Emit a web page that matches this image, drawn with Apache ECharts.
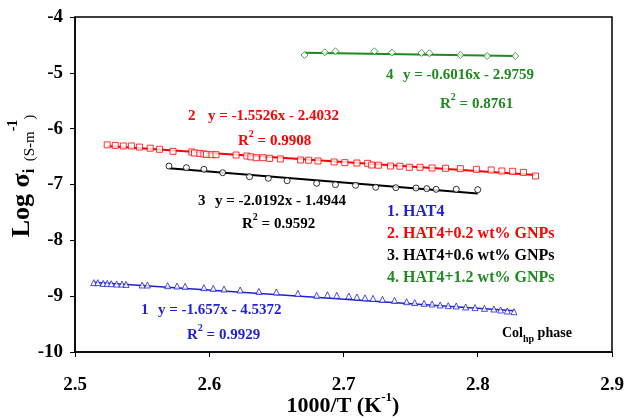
<!DOCTYPE html>
<html>
<head>
<meta charset="utf-8">
<script src="https://cdn.jsdelivr.net/npm/echarts@6/dist/echarts.min.js"></script>
<style>
html, body { margin: 0; padding: 0; background: #fff; }
#main { width: 626px; height: 419px; }
</style>
</head>
<body>
<div id="main"></div>
<script>
// 1. HAT4 (blue triangles)
const hat4X = [2.514, 2.517, 2.521, 2.524, 2.527, 2.531, 2.535, 2.538, 2.550, 2.554, 2.569, 2.576, 2.582, 2.596, 2.603, 2.611, 2.623, 2.637, 2.650, 2.666, 2.680, 2.688, 2.695, 2.704, 2.710, 2.716, 2.722, 2.729, 2.738, 2.747, 2.753, 2.760, 2.766, 2.772, 2.778, 2.784, 2.791, 2.798, 2.805, 2.812, 2.817, 2.822, 2.827];
const hat4Y = [-8.758, -8.758, -8.771, -8.771, -8.777, -8.783, -8.783, -8.789, -8.800, -8.800, -8.812, -8.818, -8.824, -8.848, -8.860, -8.872, -8.890, -8.915, -8.925, -8.950, -8.985, -8.975, -8.985, -8.997, -9.015, -9.030, -9.040, -9.057, -9.075, -9.099, -9.115, -9.128, -9.140, -9.158, -9.170, -9.176, -9.194, -9.205, -9.218, -9.230, -9.248, -9.266, -9.278];
const hat4Fit = [[2.514, -8.75], [2.827, -9.26]];

// 2. HAT4+0.2 wt% GNPs (red squares)
const gnp02X = [2.524, 2.530, 2.536, 2.542, 2.548, 2.556, 2.563, 2.573, 2.587, 2.589, 2.593, 2.596, 2.598, 2.602, 2.605, 2.620, 2.628, 2.631, 2.635, 2.640, 2.645, 2.653, 2.668, 2.674, 2.681, 2.693, 2.701, 2.710, 2.718, 2.721, 2.726, 2.735, 2.742, 2.749, 2.757, 2.766, 2.776, 2.787, 2.799, 2.810, 2.818, 2.826, 2.834, 2.843];
const gnp02Y = [-6.290, -6.300, -6.310, -6.310, -6.330, -6.350, -6.370, -6.406, -6.418, -6.436, -6.442, -6.454, -6.460, -6.466, -6.466, -6.472, -6.490, -6.505, -6.520, -6.520, -6.532, -6.543, -6.561, -6.565, -6.579, -6.597, -6.609, -6.615, -6.621, -6.651, -6.655, -6.669, -6.672, -6.692, -6.692, -6.704, -6.710, -6.716, -6.728, -6.740, -6.758, -6.764, -6.782, -6.848];
const gnp02Fit = [[2.524, -6.31], [2.843, -6.83]];

// 3. HAT4+0.6 wt% GNPs (black circles)
const gnp06X = [2.570, 2.583, 2.596, 2.610, 2.630, 2.644, 2.658, 2.680, 2.694, 2.709, 2.724, 2.739, 2.754, 2.762, 2.769, 2.784, 2.800];
const gnp06Y = [-6.669, -6.699, -6.728, -6.789, -6.861, -6.889, -6.932, -6.979, -7.003, -7.014, -7.050, -7.057, -7.063, -7.075, -7.086, -7.086, -7.093];
const gnp06Fit = [[2.570, -6.71], [2.800, -7.16]];

// 4. HAT4+1.2 wt% GNPs (green diamonds)
const gnp12X = [2.671, 2.686, 2.694, 2.723, 2.736, 2.758, 2.764, 2.787, 2.807, 2.828];
const gnp12Y = [-4.681, -4.632, -4.614, -4.614, -4.639, -4.645, -4.650, -4.681, -4.699, -4.699];
const gnp12Fit = [[2.671, -4.64], [2.828, -4.70]];

const BLUE = '#1f1fd8', RED = '#ff0000', BLACK = '#000000', GREEN = '#1f8a1f';
const SERIF = '"Liberation Serif", "DejaVu Serif", serif';

const zip = (xs, ys) => xs.map((x, i) => [x, ys[i]]);

function pointSeries(name, xs, ys, symbol, color, size) {
    return {
        name: name,
        type: 'scatter',
        symbol: symbol,
        symbolSize: size,
        itemStyle: { color: '#fff', borderColor: color, borderWidth: 1 },
        data: zip(xs, ys),
        z: 3
    };
}

function fitSeries(name, pts, color, width) {
    return {
        name: name,
        type: 'line',
        data: pts,
        showSymbol: false,
        lineStyle: { color: color, width: width },
        z: 2
    };
}

function txt(x, y, text, color, size, extra) {
    return {
        type: 'text',
        x: x,
        y: y,
        style: Object.assign({
            text: text,
            fill: color,
            font: 'bold ' + size + 'px ' + SERIF,
            verticalAlign: 'middle'
        }, extra || {})
    };
}

// rich style piece helper
const rs = (size, color, va, weight) => ({
    fontSize: size, fontWeight: weight || 'bold', fontFamily: SERIF,
    fill: color, color: color, verticalAlign: va
});

function rsq(x, y, value, color) {
    return txt(x, y, '{a|R}{s|2}{a| = ' + value + '}', color, 15, {
        rich: {
            a: Object.assign(rs(15, color, 'bottom'), { lineHeight: 20 }),
            s: Object.assign(rs(10, color, 'top'), { lineHeight: 20 })
        }
    });
}

var chartDom = document.getElementById('main');
var myChart = echarts.init(chartDom);

var option = {
    animation: false,
    backgroundColor: '#fff',
    grid: {
        left: 75, right: 14, top: 17, bottom: 67,
        outerBoundsMode: 'none',
        containLabel: false,
        show: true, borderColor: '#000', borderWidth: 1.5, backgroundColor: 'transparent'
    },
    xAxis: {
        type: 'value',
        min: 2.5, max: 2.9, interval: 0.1,
        axisLine: { lineStyle: { color: '#000', width: 1.5 } },
        axisTick: { show: true, length: 5, lineStyle: { color: '#000' } },
        splitLine: { show: false },
        axisLabel: {
            margin: 24,
            color: '#000', fontSize: 19, fontWeight: 'bold', fontFamily: SERIF,
            formatter: v => v.toFixed(1)
        }
    },
    yAxis: {
        type: 'value',
        min: -10, max: -4, interval: 1,
        axisLine: { show: true, lineStyle: { color: '#000', width: 1.5 } },
        axisTick: { show: true, length: 5, lineStyle: { color: '#000' } },
        splitLine: { show: false },
        axisLabel: {
            margin: 12,
            color: '#000', fontSize: 19, fontWeight: 'bold', fontFamily: SERIF
        }
    },
    series: [
        fitSeries('fit1', hat4Fit, BLUE, 1.5),
        fitSeries('fit2', gnp02Fit, RED, 2),
        fitSeries('fit3', gnp06Fit, BLACK, 2),
        fitSeries('fit4', gnp12Fit, GREEN, 2),
        pointSeries('1. HAT4', hat4X, hat4Y, 'triangle', BLUE, 6),
        pointSeries('2. HAT4+0.2 wt% GNPs', gnp02X, gnp02Y, 'rect', RED, 6),
        pointSeries('3. HAT4+0.6 wt% GNPs', gnp06X, gnp06Y, 'circle', BLACK, 6),
        pointSeries('4. HAT4+1.2 wt% GNPs', gnp12X, gnp12Y, 'diamond', GREEN, 7)
    ],
    graphic: [
        // axis titles
        txt(343, 404, '{a|1000/T (K}{s|-1}{a|)}', BLACK, 22, {
            align: 'center',
            rich: {
                a: Object.assign(rs(22, BLACK, 'bottom'), { lineHeight: 26 }),
                s: Object.assign(rs(13, BLACK, 'top'), { lineHeight: 26 })
            }
        }),
        {
            type: 'text',
            x: 22, y: 176,
            rotation: Math.PI / 2,
            style: {
                text: '{b|Log σ}{i|i}{s|  (S-m}{p|-1}{s|)}',
                align: 'center',
                verticalAlign: 'middle',
                fill: BLACK,
                font: 'bold 26px ' + SERIF,
                rich: {
                    b: Object.assign(rs(26, BLACK, 'middle'), { lineHeight: 32 }),
                    i: Object.assign(rs(16, BLACK, 'bottom'), { lineHeight: 32 }),
                    s: Object.assign(rs(15, BLACK, 'bottom', 'normal'), { lineHeight: 32 }),
                    p: Object.assign(rs(14, BLACK, 'top'), { lineHeight: 32 })
                }
            }
        },
        // equations
        txt(386, 75, '4', GREEN, 15),
        txt(403, 75, 'y = -0.6016x - 2.9759', GREEN, 15),
        rsq(440, 102, '0.8761', GREEN),
        txt(188, 116, '2', RED, 15),
        txt(208, 116, 'y = -1.5526x - 2.4032', RED, 15),
        rsq(238, 139, '0.9908', RED),
        txt(198, 201, '3', BLACK, 15),
        txt(215, 201, 'y = -2.0192x - 1.4944', BLACK, 15),
        rsq(242, 222, '0.9592', BLACK),
        txt(141, 310, '1', BLUE, 15),
        txt(158, 310, 'y = -1.657x - 4.5372', BLUE, 15),
        rsq(187, 333, '0.9929', BLUE),
        // legend
        txt(387, 212, '1. HAT4', BLUE, 16),
        txt(387, 234, '2. HAT4+0.2 wt% GNPs', RED, 16),
        txt(387, 256, '3. HAT4+0.6 wt% GNPs', BLACK, 16),
        txt(387, 278, '4. HAT4+1.2 wt% GNPs', GREEN, 16),
        // phase note
        txt(502, 335, '{a|Col}{s|hp}{a| phase}', BLACK, 14, {
            rich: {
                a: Object.assign(rs(14, BLACK, 'top'), { lineHeight: 18 }),
                s: Object.assign(rs(10, BLACK, 'bottom'), { lineHeight: 18 })
            }
        })
    ]
};

option && myChart.setOption(option);
</script>
</body>
</html>
